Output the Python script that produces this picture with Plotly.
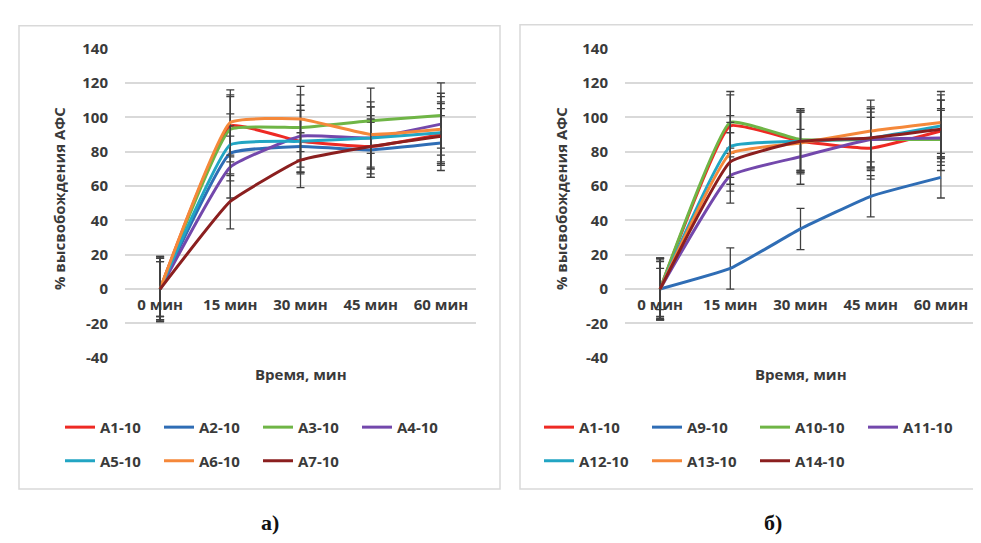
import plotly.graph_objects as go

# ---------------- data ----------------
categories = ["0 мин", "15 мин", "30 мин", "45 мин", "60 мин"]
y_tickvals = [-40, -20, 0, 20, 40, 60, 80, 100, 120, 140]
y_ticktext = ["-40", "-20", "0", "20", "40", "60", "80", "100", "120", "140"]

names_a = ["A1-10", "A2-10", "A3-10", "A4-10", "A5-10", "A6-10", "A7-10"]
a1_10 = [0, 95, 86, 83, 90]
a2_10 = [0, 79, 83, 81, 85]
a3_10 = [0, 93, 94, 98, 101]
a4_10 = [0, 71, 89, 88, 96]
a5_10 = [0, 84, 86, 88, 91]
a6_10 = [0, 97, 99, 90, 93]
a7_10 = [0, 51, 75, 83, 89]
err_a = [18, 16, 19, 18, 18, 19, 16]

names_b = ["A1-10", "A9-10", "A10-10", "A11-10", "A12-10", "A13-10", "A14-10"]
b1_10 = [0, 95, 86, 82, 92]
b9_10 = [0, 12, 35, 54, 65]
b10_10 = [0, 97, 87, 87, 87]
b11_10 = [0, 66, 77, 87, 88]
b12_10 = [0, 83, 86, 88, 95]
b13_10 = [0, 79, 85, 92, 97]
b14_10 = [0, 74, 86, 88, 93]
err_b = [18, 12, 18, 16, 18, 18, 17]

colors = ["#EE2A24", "#2F6DB5", "#6FB546", "#7348AC", "#22A5C3", "#F5883A", "#8B1F1F"]

series_a = [a1_10, a2_10, a3_10, a4_10, a5_10, a6_10, a7_10]
series_b = [b1_10, b9_10, b10_10, b11_10, b12_10, b13_10, b14_10]

# ---------------- layout helpers ----------------
W, H = 981, 543
def px(x):
    return x / W
def py(y):
    return 1 - y / H

FONT = "Open Sans"
TXT = "#3a3a3a"
GRID = "#d9d9d9"

fig = go.Figure()

for i, (name, vals) in enumerate(zip(names_a, series_a)):
    fig.add_trace(go.Scatter(
        x=categories, y=vals, name=name, mode="lines",
        line=dict(color=colors[i], width=3, shape="spline", smoothing=0.35),
        error_y=dict(type="constant", value=err_a[i], color="#404040", thickness=1.3, width=4),
        xaxis="x", yaxis="y",
        legend="legend" if i < 4 else "legend2",
    ))

for i, (name, vals) in enumerate(zip(names_b, series_b)):
    fig.add_trace(go.Scatter(
        x=categories, y=vals, name=name, mode="lines",
        line=dict(color=colors[i], width=3, shape="spline", smoothing=0.35),
        error_y=dict(type="constant", value=err_b[i], color="#404040", thickness=1.3, width=4),
        xaxis="x2", yaxis="y2",
        legend="legend3" if i < 4 else "legend4",
    ))

ydom = [py(351.7), py(30.7)]
zero_pos = py(280)

tickfont = dict(family=FONT, size=15, color=TXT, weight="bold")

def xaxis_def(d0, d1):
    return dict(
        type="category", categoryorder="array", categoryarray=categories,
        range=[-0.5, 4.5], domain=[px(d0), px(d1)],
        anchor="free", position=zero_pos,
        showgrid=False, showline=False, zeroline=False, ticks="",
        tickfont=tickfont, ticklabelstandoff=5, fixedrange=True,
    )

def yaxis_def(xname):
    return dict(
        range=[-40, 140], tickvals=y_tickvals, ticktext=y_ticktext,
        domain=ydom, anchor=xname,
        showgrid=True, gridcolor=GRID, gridwidth=1.5,
        zeroline=True, zerolinecolor=GRID, zerolinewidth=1.5,
        showline=False, ticks="", tickfont=tickfont, ticklabelstandoff=16,
    )

legfont = dict(family=FONT, size=15, color=TXT, weight="bold")
def leg(x, y, ew):
    return dict(orientation="h", x=x, y=y, xanchor="left", yanchor="middle",
                bgcolor="rgba(0,0,0,0)", font=legfont, entrywidth=ew,
                entrywidthmode="pixels", itemclick=False, itemdoubleclick=False)

fig.update_layout(
    width=W, height=H, margin=dict(l=0, r=0, t=0, b=0),
    paper_bgcolor="white", plot_bgcolor="white",
    xaxis=xaxis_def(117, 468),
    yaxis=yaxis_def("x"),
    xaxis2=xaxis_def(617, 968),
    yaxis2=yaxis_def("x2"),
    legend=leg(px(52), py(424), 54),
    legend2=leg(px(52), py(459), 54),
    legend3=leg(px(531), py(424), 63),
    legend4=leg(px(531), py(459), 63),
    showlegend=True,
)

shapes = [
    dict(type="rect", xref="paper", yref="paper", x0=px(11), x1=px(492), y0=py(488), y1=py(7),
         line=dict(color=GRID, width=1.5), fillcolor="rgba(0,0,0,0)", layer="below"),
    dict(type="rect", xref="paper", yref="paper", x0=px(512), x1=px(990), y0=py(488), y1=py(6),
         line=dict(color=GRID, width=1.5), fillcolor="rgba(0,0,0,0)", layer="below"),
]
fig.update_layout(shapes=shapes)

titlefont = dict(family=FONT, size=15, color=TXT, weight="bold")
ann = []
for xc in (51, 553):
    ann.append(dict(text="% высвобождения АФС", x=px(xc), y=py(187), xref="paper", yref="paper",
                    textangle=-90, showarrow=False, font=titlefont, xanchor="center", yanchor="middle"))
for xc in (293, 793):
    ann.append(dict(text="Время, мин", x=px(xc), y=py(369), xref="paper", yref="paper",
                    showarrow=False, font=titlefont, xanchor="center", yanchor="middle"))
for xc, lab in ((262, "а)"), (765, "б)")):
    ann.append(dict(text=lab, x=px(xc), y=py(523), xref="paper", yref="paper", showarrow=False,
                    font=dict(family="Liberation Serif", size=22, color="#111111", weight="bold"),
                    xanchor="center", yanchor="middle"))
fig.update_layout(annotations=ann)

fig.write_html("out.html")
